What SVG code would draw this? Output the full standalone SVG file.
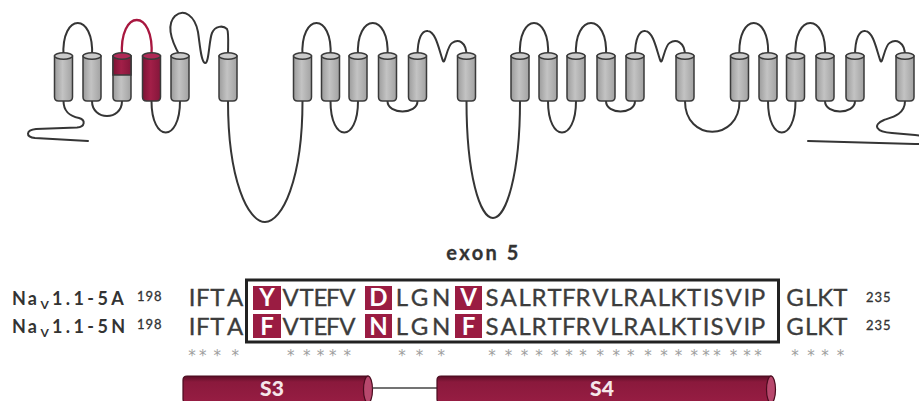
<svg xmlns="http://www.w3.org/2000/svg" width="919" height="401" viewBox="0 0 919 401">
<style>
  .loop{fill:none;stroke:#353535;stroke-width:2;stroke-linecap:round;stroke-linejoin:round}
  .hot{stroke:#a8173f;stroke-width:2.3}
  .seq{font-family:Lato,"Liberation Sans",sans-serif;font-size:24px;fill:#3c3c3c;stroke:#3c3c3c;stroke-width:0.35;text-anchor:middle}
  .cellTxt{font-family:Lato,"Liberation Sans",sans-serif;font-size:24px;font-weight:700;fill:#ffffff;text-anchor:middle}
  .cell{fill:#9a1c42}
  .name{font-family:Lato,"Liberation Sans",sans-serif;font-size:18px;font-weight:700;fill:#333333}
  .num{font-family:Lato,"Liberation Sans",sans-serif;font-size:13px;fill:#333333;stroke:#333333;stroke-width:0.3;letter-spacing:1px}
  .star{font-family:"DejaVu Sans",sans-serif;font-size:15px;fill:#9e9e9e;text-anchor:middle}
  .barTxt{font-family:Lato,"Liberation Sans",sans-serif;font-size:21px;font-weight:900;fill:#f6e6ea;text-anchor:middle}
  .helixLine{stroke:#3a3a3a;stroke-width:1.5}
</style>
<defs>
  <linearGradient id="grayBody" x1="0" x2="1" y1="0" y2="0">
    <stop offset="0" stop-color="#9c9c9c"/>
    <stop offset="0.45" stop-color="#c3c3c3"/>
    <stop offset="1" stop-color="#a2a2a2"/>
  </linearGradient>
  <linearGradient id="redBody" x1="0" x2="1" y1="0" y2="0">
    <stop offset="0" stop-color="#7c1334"/>
    <stop offset="0.45" stop-color="#a21f48"/>
    <stop offset="1" stop-color="#84163a"/>
  </linearGradient>
  <linearGradient id="barBody" x1="0" x2="0" y1="0" y2="1">
    <stop offset="0" stop-color="#5a0e26"/>
    <stop offset="0.22" stop-color="#8a193c"/>
    <stop offset="1" stop-color="#971d43"/>
  </linearGradient>
  <g id="helix">
    <path class="helixLine" d="M-9,56 L-9,97 Q-9,101 -5,101 L5,101 Q9,101 9,97 L9,56 Z" fill="url(#grayBody)"/>
    <ellipse class="helixLine" cx="0" cy="56" rx="9" ry="3.2" fill="#cbcbcb"/>
  </g>
</defs>

<rect width="919" height="401" fill="#ffffff"/>

<!-- loops and linkers of the channel -->
<g id="connectors">
  <!-- domain I -->
  <path class="loop" d="M63.5,101 C63.5,112 70,116 79,118 C86,120 85,127 77,127.5 L36,129 C26,130 25,137 35,138 L88,141"/>
  <path class="loop" d="M63.5,56 C61,12 94.5,12 92,56"/>
  <path class="loop" d="M92,101 C92,121 122,121 122,101"/>
  <path class="loop hot" d="M122,56 C119,8 154.5,8 151.5,56"/>
  <path class="loop" d="M151.5,101 C151.5,143 180,143 180,101"/>
  <path class="loop" d="M180,56 C172,42 166,25 175,16 C184,8 195,16 198,32 C200,45 201,62 205,63 C209,64 209,40 212,33 C215,26 223,25 227,29 C229,32 228,45 228,56"/>
  <path class="loop" d="M228,101 C228,180 248,222 265,222 C282,222 302.5,180 302.5,101"/>
  <!-- domain II -->
  <path class="loop" d="M302.5,56 C300,12 333,12 330.5,56"/>
  <path class="loop" d="M330.5,101 C330.5,143 358,143 358,101"/>
  <path class="loop" d="M358,56 C355.5,12 390,12 387.5,56"/>
  <path class="loop" d="M387.5,101 C387.5,115 417.5,115 417.5,101"/>
  <path class="loop" d="M417.5,56 C417.5,38 422,30 428,31 C436,32 439,50 443,61 C445,65 447,46 452,43 C458,39 466.5,41 466.5,56"/>
  <path class="loop" d="M466.5,101 C466.5,175 480,218 493,218 C506,218 520,175 520,101"/>
  <!-- domain III -->
  <path class="loop" d="M520,56 C517.5,12 550.5,12 548,56"/>
  <path class="loop" d="M548,101 C548,143 576,143 576,101"/>
  <path class="loop" d="M576,56 C573.5,12 608.5,12 606,56"/>
  <path class="loop" d="M606,101 C606,115 635,115 635,101"/>
  <path class="loop" d="M635,56 C635,38 639.5,30 645.5,31 C653.5,32 656.5,50 660.5,61 C662.5,65 664.5,46 669.5,43 C675.5,39 685,41 685,56"/>
  <path class="loop" d="M685,101 C685,142 739.5,142 739.5,101"/>
  <!-- domain IV -->
  <path class="loop" d="M739.5,56 C737,12 770.5,12 768,56"/>
  <path class="loop" d="M768,101 C768,143 795.5,143 795.5,101"/>
  <path class="loop" d="M795.5,56 C793,12 827.5,12 825,56"/>
  <path class="loop" d="M825,101 C825,115 855,115 855,101"/>
  <path class="loop" d="M855,56 C855,38 859.5,30 865.5,31 C873.5,32 876.5,50 880.5,61 C882.5,65 884.5,46 889.5,43 C895.5,39 905,41 905,56"/>
  <path class="loop" d="M905,101 C905,114 893,117 884,120 C872,125 876,132 892,133 L915,135 C935,137 935,144 915,144 L808,141"/>
</g>

<!-- transmembrane segments -->
<g id="domain-I">
  <use id="DI-S1" href="#helix" x="63.5"/>
  <use id="DI-S2" href="#helix" x="92"/>
  <g id="DI-S3">
    <path class="helixLine" d="M113,56 L113,97 Q113,101 117,101 L127,101 Q131,101 131,97 L131,56 Z" fill="url(#grayBody)"/>
    <path d="M113,56 L113,75 L131,75 L131,56 Z" fill="url(#redBody)" stroke="#3a3a3a" stroke-width="1.5"/>
    <ellipse class="helixLine" cx="122" cy="56" rx="9" ry="3.2" fill="#b02956"/>
  </g>
  <g id="DI-S4">
    <path class="helixLine" d="M142.5,56 L142.5,97 Q142.5,101 146.5,101 L156.5,101 Q160.5,101 160.5,97 L160.5,56 Z" fill="url(#redBody)"/>
    <ellipse class="helixLine" cx="151.5" cy="56" rx="9" ry="3.2" fill="#b02956"/>
  </g>
  <use id="DI-S5" href="#helix" x="180"/>
  <use id="DI-S6" href="#helix" x="228"/>
</g>
<g id="domain-II">
  <use id="DII-S1" href="#helix" x="302.5"/>
  <use id="DII-S2" href="#helix" x="330.5"/>
  <use id="DII-S3" href="#helix" x="358"/>
  <use id="DII-S4" href="#helix" x="387.5"/>
  <use id="DII-S5" href="#helix" x="417.5"/>
  <use id="DII-S6" href="#helix" x="466.5"/>
</g>
<g id="domain-III">
  <use id="DIII-S1" href="#helix" x="520"/>
  <use id="DIII-S2" href="#helix" x="548"/>
  <use id="DIII-S3" href="#helix" x="576"/>
  <use id="DIII-S4" href="#helix" x="606"/>
  <use id="DIII-S5" href="#helix" x="635"/>
  <use id="DIII-S6" href="#helix" x="685"/>
</g>
<g id="domain-IV">
  <use id="DIV-S1" href="#helix" x="739.5"/>
  <use id="DIV-S2" href="#helix" x="768"/>
  <use id="DIV-S3" href="#helix" x="795.5"/>
  <use id="DIV-S4" href="#helix" x="825"/>
  <use id="DIV-S5" href="#helix" x="855"/>
  <use id="DIV-S6" href="#helix" x="905"/>
</g>

<!-- alignment -->
<g id="exon-label">
  <text x="483.5" y="260" text-anchor="middle" style="font-family:Lato,'Liberation Sans',sans-serif;font-size:20px;font-weight:700;fill:#333;stroke:#333;stroke-width:0.3;letter-spacing:2.5px">exon 5</text>
</g>

<g id="exon-box">
  <rect class="cell" x="253" y="286" width="28" height="24"/>
  <rect class="cell" x="365" y="286" width="27" height="24"/>
  <rect class="cell" x="455" y="286" width="27" height="24"/>
  <rect class="cell" x="253" y="314" width="28" height="24"/>
  <rect class="cell" x="365" y="314" width="27" height="24"/>
  <rect class="cell" x="455" y="314" width="27" height="24"/>
  <rect x="246.5" y="280" width="532" height="62" fill="none" stroke="#222" stroke-width="3"/>
</g>

<g id="row-5A">
  <text class="name" x="12" y="305" letter-spacing="2">Na</text>
  <text class="name" x="40.5" y="309" style="font-size:12px">V</text>
  <text class="name" x="52" y="305" letter-spacing="3.4">1.1-5A</text>
  <text class="num" x="137" y="301">198</text>
  <text class="seq" x="192 202.7 217.3 235.2" y="306">IFTA</text>
  <text class="cellTxt" x="267" y="306">Y</text>
  <text class="seq" x="290.7 306.7 320.5 332.8 347.3" y="306">VTEFV</text>
  <text class="cellTxt" x="378.5" y="306">D</text>
  <text class="seq" x="401.9 419.6 441.2" y="306">LGN</text>
  <text class="cellTxt" x="468.5" y="306">V</text>
  <text class="seq" x="492.1 508.6 524.6 539 554.7 568.9 583 600.3 616.3 630.7 648 664 678.4 694.2 706 717 733.5 746.9 757.9" y="306">SALRTFRVLRALKTISVIP</text>
  <text class="seq" x="794.9 811.1 825.1 840.4" y="306">GLKT</text>
  <text class="num" x="866" y="302">235</text>
</g>

<g id="row-5N">
  <text class="name" x="12" y="333" letter-spacing="2">Na</text>
  <text class="name" x="40.5" y="337" style="font-size:12px">V</text>
  <text class="name" x="52" y="333" letter-spacing="3.4">1.1-5N</text>
  <text class="num" x="137" y="329">198</text>
  <text class="seq" x="192 202.7 217.3 235.2" y="334.5">IFTA</text>
  <text class="cellTxt" x="267" y="334.5">F</text>
  <text class="seq" x="290.7 306.7 320.5 332.8 347.3" y="334.5">VTEFV</text>
  <text class="cellTxt" x="378.5" y="334.5">N</text>
  <text class="seq" x="401.9 419.6 441.2" y="334.5">LGN</text>
  <text class="cellTxt" x="468.5" y="334.5">F</text>
  <text class="seq" x="492.1 508.6 524.6 539 554.7 568.9 583 600.3 616.3 630.7 648 664 678.4 694.2 706 717 733.5 746.9 757.9" y="334.5">SALRTFRVLRALKTISVIP</text>
  <text class="seq" x="794.9 811.1 825.1 840.4" y="334.5">GLKT</text>
  <text class="num" x="866" y="330">235</text>
</g>

<g id="conservation">
  <text class="star" x="192 202.7 217.3 235.2" y="361">****</text>
  <text class="star" x="290.7 306.7 320.5 332.8 347.3" y="361">*****</text>
  <text class="star" x="401.9 419.6 441.2" y="361">***</text>
  <text class="star" x="492.1 508.6 524.6 539 554.7 568.9 583 600.3 616.3 630.7 648 664 678.4 694.2 706 717 733.5 746.9 757.9" y="361">*******************</text>
  <text class="star" x="794.9 811.1 825.1 840.4" y="361">****</text>
</g>

<!-- secondary structure bars -->
<g id="S3">
  <path d="M187,376 L368,376 L368,403 L187,403 Q183,403 183,399 L183,380 Q183,376 187,376 Z" fill="url(#barBody)" stroke="#4a0b1e" stroke-width="1.2"/>
  <ellipse cx="368" cy="389.5" rx="4.5" ry="13.5" fill="#b8486d" stroke="#4a0b1e" stroke-width="1.2"/>
  <text class="barTxt" x="272" y="396">S3</text>
</g>
<g id="S3-S4-link">
  <path d="M372.5,388 L437,388" stroke="#444" stroke-width="1.5" fill="none"/>
</g>
<g id="S4">
  <path d="M441,376 L771,376 L771,403 L441,403 Q437,403 437,399 L437,380 Q437,376 441,376 Z" fill="url(#barBody)" stroke="#4a0b1e" stroke-width="1.2"/>
  <ellipse cx="771" cy="389.5" rx="4.5" ry="13.5" fill="#b8486d" stroke="#4a0b1e" stroke-width="1.2"/>
  <text class="barTxt" x="602" y="396">S4</text>
</g>
</svg>
